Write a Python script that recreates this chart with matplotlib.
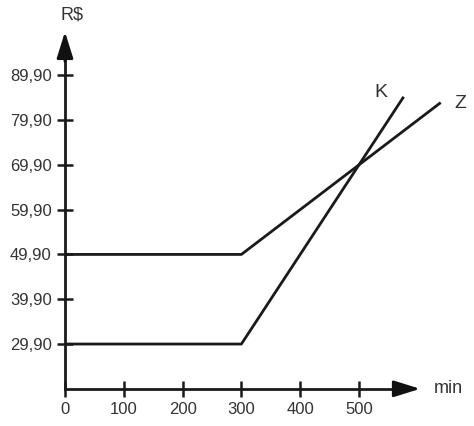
import matplotlib.pyplot as plt
import numpy as np

plt.rcParams['font.family'] = ['Liberation Sans', 'DejaVu Sans']

# data
x_ticks = [0, 100, 200, 300, 400, 500]
y_ticks = [29.9, 39.9, 49.9, 59.9, 69.9, 79.9, 89.9]
y_labels = ['29,90', '39,90', '49,90', '59,90', '69,90', '79,90', '89,90']
k_x = [0, 300, 576]
k_y = [29.9, 29.9, 85.1]
z_x = [0, 300, 639]
z_y = [49.9, 49.9, 83.8]

y0 = 19.9
fig = plt.figure(figsize=(4.74, 4.26), dpi=100)
ax = fig.add_axes([0, 0, 1, 1])
ax.set_xlim(-110.5, 695.6)
ax.set_ylim(11.6, 106.7)

ax.plot(k_x, k_y, color='#1a1a1a', lw=2.0, solid_capstyle='butt')
ax.plot(z_x, z_y, color='#1a1a1a', lw=2.0, solid_capstyle='butt')
ax.text(537, 86.1, 'K', fontsize=14, color='#333333', ha='center', va='center')
ax.text(672, 83.7, 'Z', fontsize=14, color='#333333', ha='center', va='center')

for s in ['top', 'right']:
    ax.spines[s].set_visible(False)
ax.spines['left'].set_position(('data', 0))
ax.spines['bottom'].set_position(('data', y0))
ax.spines['left'].set_bounds(y0, 95)
ax.spines['bottom'].set_bounds(0, 565)
for s in ['left', 'bottom']:
    ax.spines[s].set_linewidth(2.0)
    ax.spines[s].set_color('#1a1a1a')

ax.annotate('', xy=(0, 99.6), xytext=(0, 93),
            arrowprops=dict(arrowstyle='-|>,head_width=0.5,head_length=1.6', color='#111111', lw=2,
                            shrinkA=0, shrinkB=0))
ax.annotate('', xy=(604, y0), xytext=(560, y0),
            arrowprops=dict(arrowstyle='-|>,head_width=0.5,head_length=1.6', color='#111111', lw=2,
                            shrinkA=0, shrinkB=0))

ax.set_xticks(x_ticks)
ax.set_xticklabels([str(v) for v in x_ticks])
ax.set_yticks(y_ticks)
ax.set_yticklabels(y_labels)
ax.tick_params(direction='inout', length=11, width=1.8, color='#1a1a1a',
               labelsize=12, labelcolor='#333333')
ax.tick_params(axis='x', pad=4)
ax.tick_params(axis='y', pad=4)

ax.text(652, y0, 'min', fontsize=13, color='#333333', ha='center', va='center')
ax.text(12, 103.3, 'R$', fontsize=13, color='#333333', ha='center', va='center')

fig.savefig('out.png', dpi=100, facecolor='white')
